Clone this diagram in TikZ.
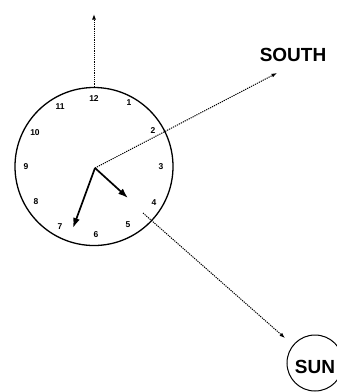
\documentclass[tikz,border=0pt]{standalone}
\usepackage{fontspec}
\setmainfont{Liberation Sans}
\usetikzlibrary{arrows.meta}
\begin{document}
\begin{tikzpicture}[x=1pt,y=-1pt,
  dotline/.style={dash pattern=on 1.2pt off 1pt,line width=1pt,-{Latex[length=5.5pt,width=4pt]}},
  hand/.style={line width=1.7pt,-{Latex[length=10pt,width=7pt]}},
  num/.style={font=\bfseries\fontsize{8.5}{9}\selectfont,inner sep=0pt},
  label/.style={font=\bfseries\fontsize{19}{20}\selectfont,inner sep=0pt}]
\clip (0,0) rectangle (337,392);
\useasboundingbox (0,0) rectangle (337,392);
\node[draw,circle,line width=1.3pt,minimum size=158pt,inner sep=0pt] (clock) at (94,166.5) {};
\coordinate (c) at (95,168);
\node[num] (n12) at (94,99) {12};
\node[num] (n1) at (129,103) {1};
\node[num] (n2) at (153,131) {2};
\node[num] (n3) at (161,167) {3};
\node[num] (n4) at (154,203) {4};
\node[num] (n5) at (128,225) {5};
\node[num] (n6) at (96,235) {6};
\node[num] (n7) at (60,227) {7};
\node[num] (n8) at (36,202) {8};
\node[num] (n9) at (26,167) {9};
\node[num] (n10) at (35,133) {10};
\node[num] (n11) at (60,107) {11};
\coordinate (up) at (94,14);
\coordinate (stip) at (277,73);
\coordinate (sstart) at (143,213);
\coordinate (suntip) at (285,338);
\coordinate (hl) at (73,228);
\coordinate (hs) at (128,198);
\node[label] (south) at (293,55) {SOUTH};
\node[draw,circle,line width=1pt,minimum size=56pt,inner sep=0pt] (sun) at (315,363) {};
\node[font=\bfseries\fontsize{19}{20}\selectfont,inner sep=0pt] (suntext) at (315,367) {SUN};
\draw[dotline] (clock.north) -- (up);
\draw[dotline] (c) -- (stip);
\draw[dotline] (sstart) -- (suntip);
\draw[hand] (c) -- (hl);
\draw[hand] (c) -- (hs);
\end{tikzpicture}
\end{document}
